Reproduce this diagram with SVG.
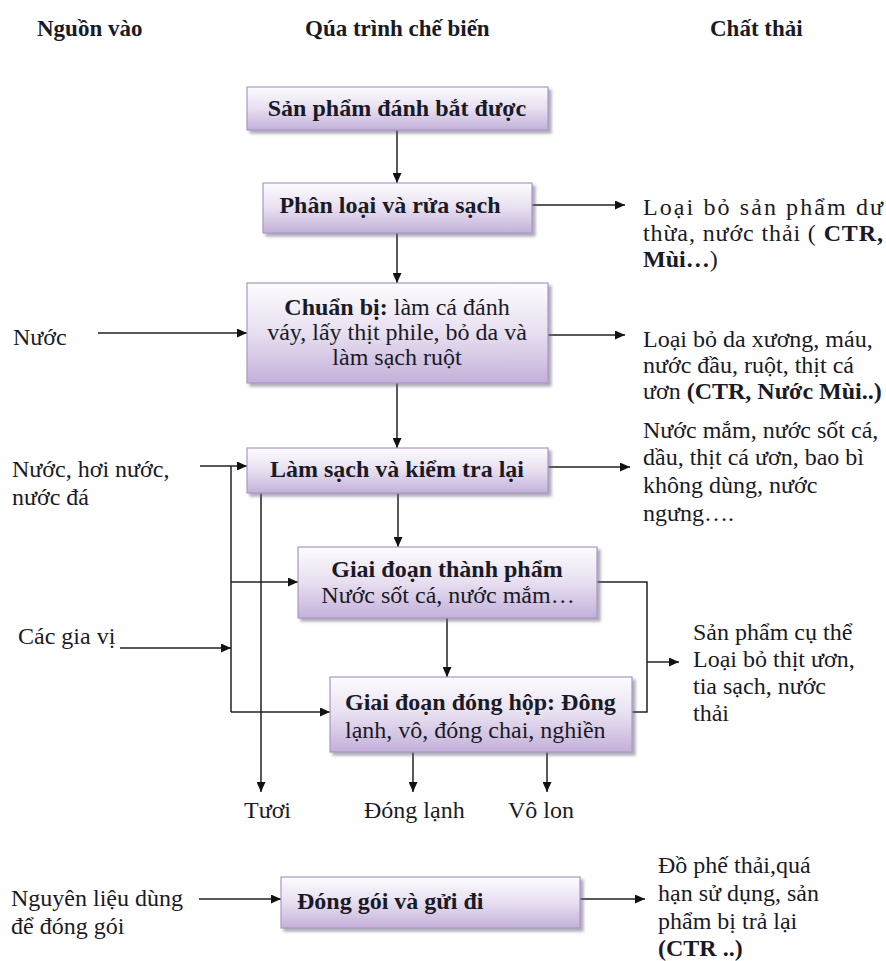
<svg xmlns="http://www.w3.org/2000/svg" width="886" height="961" viewBox="0 0 886 961">
<style>
text{font-family:"Liberation Serif","Times New Roman",serif;font-size:24px;fill:#1a1a26}
.b{font-weight:bold}
.h{font-weight:bold;font-size:23px}
.box{fill:url(#g);stroke:#a898c4;stroke-width:1.2;filter:url(#sh)}
.c{fill:none;stroke:#222;stroke-width:1.5}
.a{marker-end:url(#ar)}
</style>
<defs>
<linearGradient id="g" x1="0" y1="0" x2="0" y2="1">
<stop offset="0" stop-color="#fdfcfe"/>
<stop offset="0.5" stop-color="#e7dff0"/>
<stop offset="1" stop-color="#c3b0da"/>
</linearGradient>
<filter id="sh" x="-10%" y="-20%" width="125%" height="150%">
<feDropShadow dx="3" dy="3" stdDeviation="1.5" flood-color="#6a6478" flood-opacity="0.55"/>
</filter>
<marker id="ar" markerUnits="userSpaceOnUse" markerWidth="10" markerHeight="9" refX="10" refY="4.5" orient="auto">
<path d="M0,0 L10,4.5 L0,9 z" fill="#111"/>
</marker>
</defs>
<g id="headers">
<text class="h" x="37" y="36">Nguồn vào</text>
<text class="h" x="305" y="36">Qúa trình chế biến</text>
<text class="h" x="710" y="36">Chất thải</text>
</g>
<g id="connectors">
<line class="c a" x1="397" y1="130" x2="397" y2="183"/>
<line class="c a" x1="397" y1="233" x2="397" y2="283"/>
<line class="c a" x1="397" y1="383" x2="397" y2="448"/>
<line class="c a" x1="398" y1="493" x2="398" y2="547"/>
<line class="c a" x1="447" y1="618" x2="447" y2="677"/>
<line class="c a" x1="532" y1="205" x2="625" y2="205"/>
<line class="c a" x1="548" y1="335" x2="625" y2="335"/>
<line class="c a" x1="548" y1="467" x2="630" y2="467"/>
<line class="c a" x1="98" y1="333" x2="247" y2="333"/>
<line class="c a" x1="200" y1="466" x2="247" y2="466"/>
<polyline class="c" points="231,466 231,712"/>
<line class="c a" x1="231" y1="582" x2="298" y2="582"/>
<line class="c a" x1="231" y1="712" x2="330" y2="712"/>
<line class="c a" x1="120" y1="648" x2="231" y2="648"/>
<line class="c a" x1="261" y1="493" x2="261" y2="792"/>
<polyline class="c" points="597,582 647,582 647,712 632,712"/>
<line class="c a" x1="647" y1="662" x2="679" y2="662"/>
<line class="c a" x1="413" y1="752" x2="413" y2="792"/>
<line class="c a" x1="547" y1="752" x2="547" y2="792"/>
<line class="c a" x1="199" y1="899" x2="281" y2="899"/>
<line class="c a" x1="580" y1="899" x2="645" y2="899"/>
</g>
<g id="n1"><rect class="box" x="247" y="87" width="301" height="43"/>
<text class="b" x="397" y="116" text-anchor="middle">Sản phẩm đánh bắt được</text></g>
<g id="n2"><rect class="box" x="263" y="183" width="269" height="50"/>
<text class="b" x="390" y="213" text-anchor="middle">Phân loại và rửa sạch</text></g>
<g id="n3"><rect class="box" x="247" y="283" width="301" height="100"/>
<text x="397" y="315" text-anchor="middle"><tspan class="b">Chuẩn bị:</tspan> làm cá đánh</text>
<text x="397" y="340" text-anchor="middle">váy, lấy thịt phile, bỏ da và</text>
<text x="397" y="365" text-anchor="middle">làm sạch ruột</text></g>
<g id="n4"><rect class="box" x="247" y="448" width="301" height="45"/>
<text class="b" x="397" y="477" text-anchor="middle">Làm sạch và kiểm tra lại</text></g>
<g id="n5"><rect class="box" x="298" y="547" width="299" height="71"/>
<text class="b" x="447" y="577" text-anchor="middle">Giai đoạn thành phẩm</text>
<text x="448" y="603" text-anchor="middle">Nước sốt cá, nước mắm…</text></g>
<g id="n6"><rect class="box" x="330" y="677" width="302" height="75"/>
<text class="b" x="345" y="710">Giai đoạn đóng hộp: Đông</text>
<text x="345" y="738">lạnh, vô, đóng chai, nghiền</text></g>
<g id="n7"><rect class="box" x="281" y="877" width="299" height="51"/>
<text class="b" x="297" y="909">Đóng gói và gửi đi</text></g>
<g id="inputs">
<text x="13" y="345">Nước</text>
<text x="12" y="477">Nước, hơi nước,</text>
<text x="12" y="505">nước đá</text>
<text x="18" y="644">Các gia vị</text>
<text x="11" y="906">Nguyên liệu dùng</text>
<text x="11" y="934">để đóng gói</text>
</g>
<g id="products">
<text x="244" y="818">Tươi</text>
<text x="364" y="818">Đóng lạnh</text>
<text x="508" y="818">Vô lon</text>
</g>
<g id="wastes">
<text x="643" y="215" textLength="240" lengthAdjust="spacing">Loại bỏ sản phẩm dư</text>
<text x="643" y="241" textLength="240" lengthAdjust="spacing">thừa, nước thải ( <tspan class="b">CTR,</tspan></text>
<text x="643" y="267"><tspan class="b">Mùi…</tspan>)</text>
<text x="643" y="347">Loại bỏ da xương, máu,</text>
<text x="643" y="373">nước đầu, ruột, thịt cá</text>
<text x="643" y="399">ươn <tspan class="b">(CTR, Nước Mùi..)</tspan></text>
<text x="643" y="438">Nước mắm, nước sốt cá,</text>
<text x="643" y="465">dầu, thịt cá ươn, bao bì</text>
<text x="643" y="493">không dùng, nước</text>
<text x="643" y="521">ngưng….</text>
<text x="693" y="640">Sản phẩm cụ thể</text>
<text x="693" y="667">Loại bỏ thịt ươn,</text>
<text x="693" y="694">tia sạch, nước</text>
<text x="693" y="721">thải</text>
<text x="658" y="873">Đồ phế thải,quá</text>
<text x="658" y="901">hạn sử dụng, sản</text>
<text x="658" y="929">phẩm bị trả lại</text>
<text class="b" x="658" y="956">(CTR ..)</text>
</g>
</svg>
